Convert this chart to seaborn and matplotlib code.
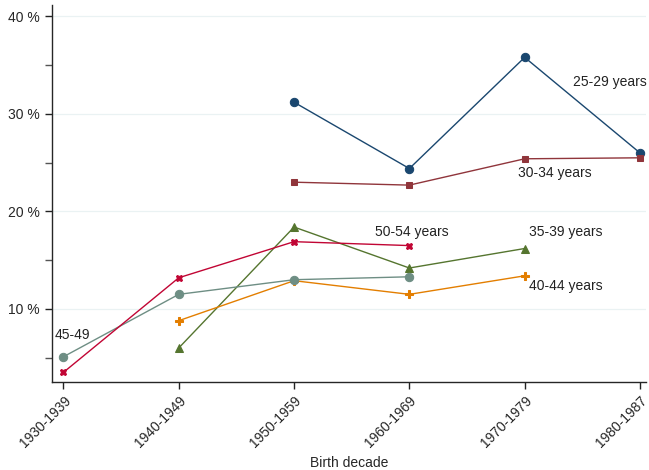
import matplotlib
matplotlib.use("Agg")
import matplotlib.pyplot as plt
import seaborn as sns
import pandas as pd
import numpy as np

decades = ["1930-1939", "1940-1949", "1950-1959", "1960-1969", "1970-1979", "1980-1987"]
groups = ["25-29 years", "30-34 years", "35-39 years", "40-44 years", "45-49", "50-54 years"]
v_25_29 = [None, None, 31.2, 24.4, 35.8, 26.0]
v_30_34 = [None, None, 23.0, 22.7, 25.4, 25.5]
v_35_39 = [None, 6.0, 18.4, 14.2, 16.2, None]
v_40_44 = [None, 8.8, 12.9, 11.5, 13.4, None]
v_45_49 = [5.1, 11.5, 13.0, 13.3, None, None]
v_50_54 = [3.5, 13.2, 16.9, 16.5, None, None]
y_ticks = [10, 20, 30, 40]
y_tick_labels = ["10 %", "20 %", "30 %", "40 %"]

colors = ["#1a476f", "#90353b", "#55752f", "#e37e00", "#6e8e84", "#c10534"]
markers = ["o", "s", "^", "P", "o", "X"]
msizes = [6, 5, 6, 6, 6, 5]

rows = []
for g, vals in zip(groups, [v_25_29, v_30_34, v_35_39, v_40_44, v_45_49, v_50_54]):
    for i, v in enumerate(vals):
        if v is not None:
            rows.append({"group": g, "x": i, "value": v})
df = pd.DataFrame(rows)

sns.set_style("ticks")
plt.rcParams["font.family"] = ["Liberation Sans", "DejaVu Sans"]

fig = plt.figure(figsize=(6.49, 4.70), dpi=100)
ax = fig.add_axes([0.080, 0.187, 0.915, 0.803])

for y in y_ticks:
    ax.axhline(y, color="#eaf2f3", lw=0.9, zorder=0)

for g, c, m, ms in zip(groups, colors, markers, msizes):
    sub = df[df["group"] == g]
    sns.lineplot(data=sub, x="x", y="value", color=c, marker=m, markersize=ms,
                 markeredgecolor=c, lw=1.0, ax=ax, legend=False)

ax.set_xlim(-0.1, 5.05)
ax.set_ylim(2.5, 41.2)
ax.set_xticks(range(len(decades)))
ax.set_xticklabels(decades, rotation=45, ha="right", rotation_mode="anchor", fontsize=10)
ax.set_yticks(y_ticks)
ax.set_yticklabels(y_tick_labels, fontsize=10)
ax.set_yticks([5, 15, 25, 35], minor=True)
ax.tick_params(axis="both", which="major", length=5, width=1, color="#222222")
ax.tick_params(axis="y", which="minor", length=5, width=1, color="#555555")
ax.set_xlabel("Birth decade", fontsize=10)
ax.set_ylabel("")
sns.despine(ax=ax)
ax.spines["left"].set_linewidth(1)
ax.spines["bottom"].set_linewidth(1)

labels_pos = {
    "25-29 years": (4.42, 33.3),
    "30-34 years": (3.94, 23.9),
    "50-54 years": (2.70, 17.9),
    "35-39 years": (4.04, 17.9),
    "40-44 years": (4.04, 12.4),
    "45-49": (-0.08, 7.3),
}
for g, (x, y) in labels_pos.items():
    ax.text(x, y, g, fontsize=10, ha="left", va="center", color="#222222")

fig.savefig("out.png", dpi=100)
